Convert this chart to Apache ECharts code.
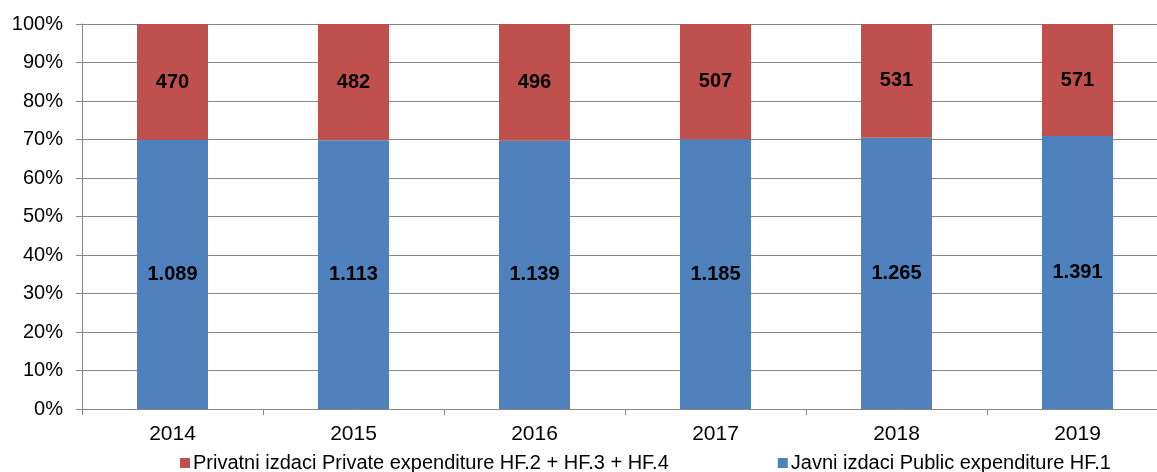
<!DOCTYPE html>
<html>
<head>
<meta charset="utf-8">
<script src="https://cdn.jsdelivr.net/npm/echarts@6/dist/echarts.min.js"></script>
<style>
  html, body { margin: 0; padding: 0; background: #fff; overflow: hidden; }
  #chart { width: 1168px; height: 472px; }
</style>
</head>
<body>
<div id="chart"></div>
<script>
const years = ['2014', '2015', '2016', '2017', '2018', '2019']
const publicSpend = [1089, 1113, 1139, 1185, 1265, 1391]
const privateSpend = [470, 482, 496, 507, 531, 571]
const yTicks = [0, 10, 20, 30, 40, 50, 60, 70, 80, 90, 100]

const share = (arr, i) => arr[i] / (publicSpend[i] + privateSpend[i]) * 100
const fmt = v => String(v).replace(/\B(?=(\d{3})+(?!\d))/g, '.')

const font = 'Liberation Sans, Arial, sans-serif'
// plot area runs past the right edge of the window, like the original
const chart = echarts.init(document.getElementById('chart'))

const labelStyle = raw => ({
  show: true,
  position: 'inside',
  fontFamily: font,
  fontSize: 20,
  fontWeight: 'bold',
  color: '#000',
  formatter: p => fmt(raw[p.dataIndex])
})

chart.setOption({
  animation: false,
  grid: { left: 82, top: 24, right: 0, bottom: 63, containLabel: false },
  legend: {
    top: 453,
    left: 180,
    padding: 0,
    itemWidth: 10,
    itemHeight: 10,
    itemGap: 109,
    icon: 'rect',
    textStyle: { fontFamily: font, fontSize: 20, color: '#000', padding: [0, 0, 0, -2] },
    data: ['Privatni izdaci Private expenditure HF.2 + HF.3 + HF.4', 'Javni izdaci Public expenditure HF.1']
  },
  xAxis: {
    type: 'category',
    data: years,
    axisLine: { lineStyle: { color: '#868686', width: 1 } },
    axisTick: { show: true, length: 6, lineStyle: { color: '#868686' } },
    axisLabel: { fontFamily: font, fontSize: 21, color: '#000', margin: 15 }
  },
  yAxis: {
    type: 'value',
    min: 0,
    max: 100,
    interval: 10,
    axisLine: { show: true, lineStyle: { color: '#868686' } },
    axisTick: { show: true, length: 6, lineStyle: { color: '#868686' } },
    splitLine: { lineStyle: { color: '#868686', width: 1 } },
    axisLabel: {
      fontFamily: font, fontSize: 20, color: '#000', margin: 19,
      formatter: v => yTicks.includes(v) ? v + '%' : ''
    }
  },
  series: [
    {
      name: 'Javni izdaci Public expenditure HF.1',
      type: 'bar',
      stack: 'total',
      barWidth: 71,
      itemStyle: { color: '#4F81BD' },
      label: labelStyle(publicSpend),
      data: years.map((_, i) => share(publicSpend, i))
    },
    {
      name: 'Privatni izdaci Private expenditure HF.2 + HF.3 + HF.4',
      type: 'bar',
      stack: 'total',
      barWidth: 71,
      itemStyle: { color: '#C0504D' },
      label: labelStyle(privateSpend),
      data: years.map((_, i) => share(privateSpend, i))
    }
  ]
})
</script>
</body>
</html>
